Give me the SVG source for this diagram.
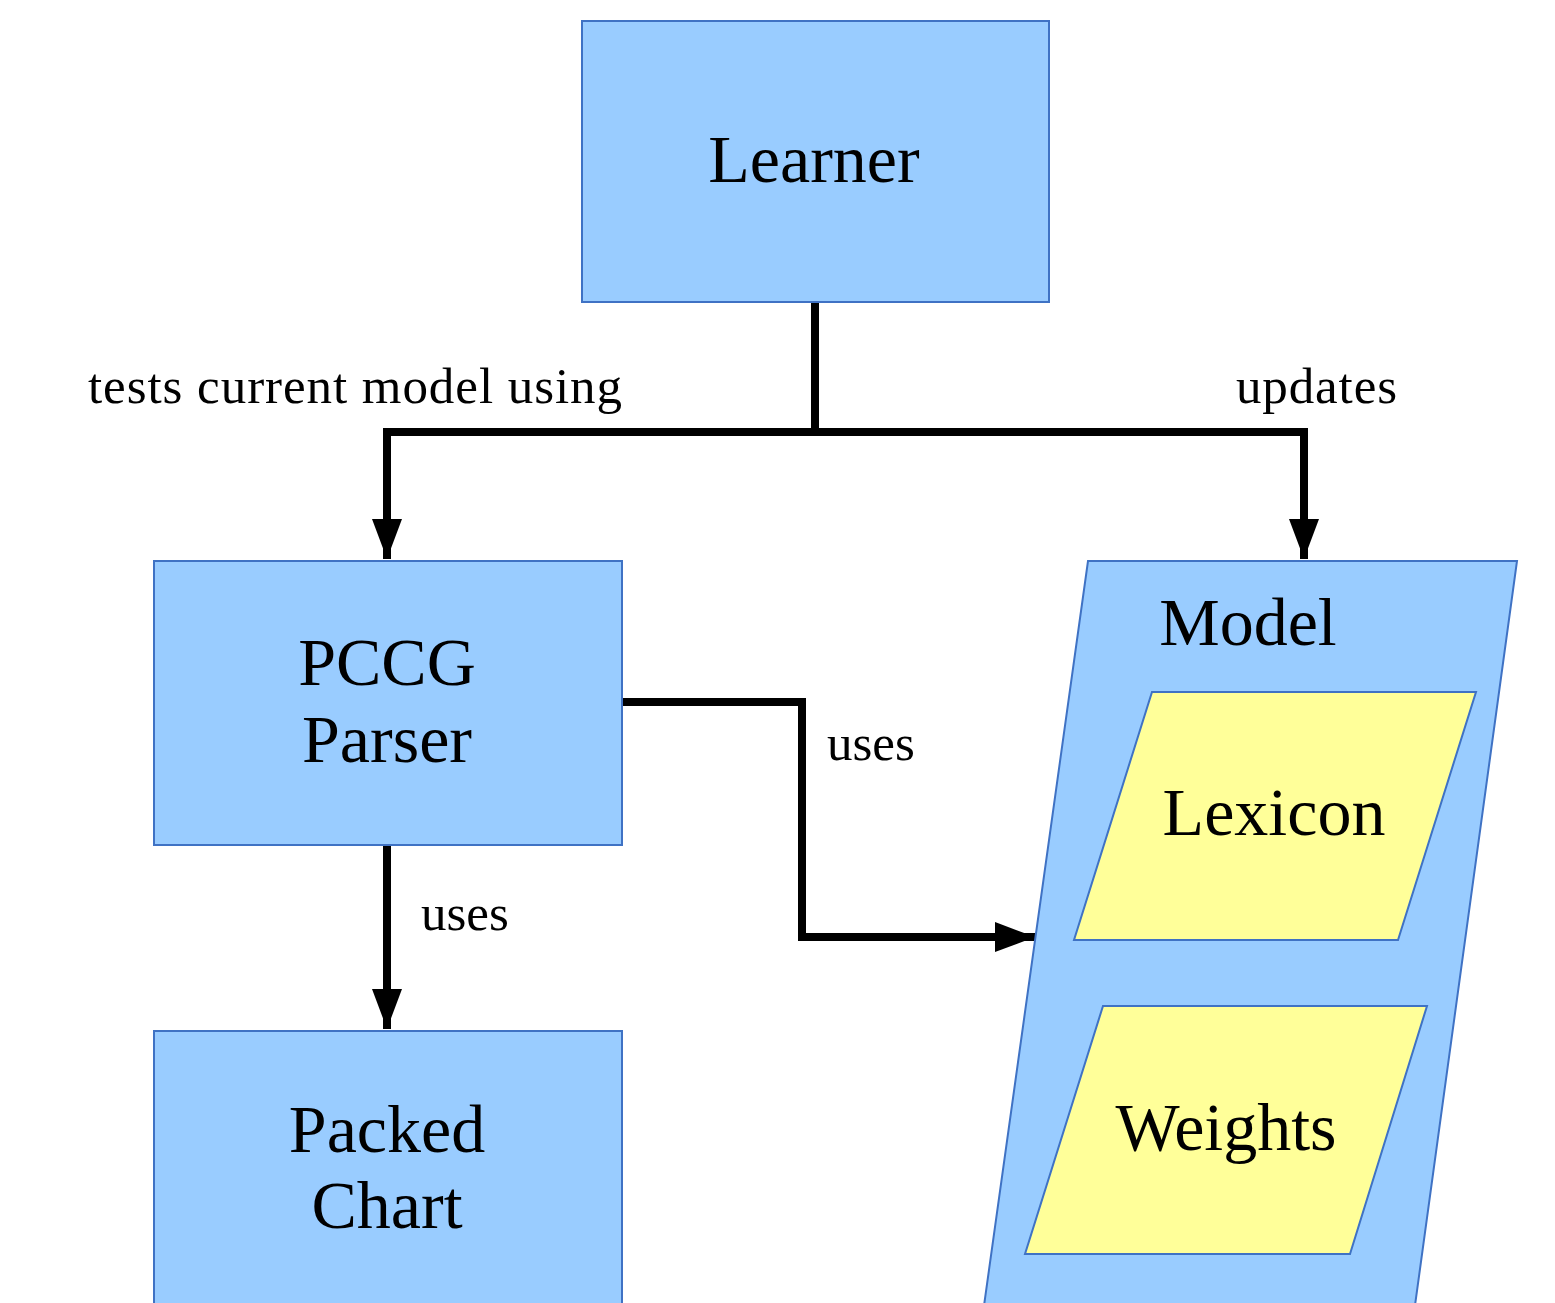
<svg xmlns="http://www.w3.org/2000/svg" width="1555" height="1303" viewBox="0 0 1555 1303">
<style>
.box{fill:#99ccff;stroke:#3f72c4;stroke-width:2}
.yel{fill:#ffff99;stroke:#3f72c4;stroke-width:2}
.big{font-family:"Liberation Serif","DejaVu Serif",serif;font-size:68px;fill:#000;text-anchor:middle}
.lbl{font-family:"Liberation Serif","DejaVu Serif",serif;font-size:51px;fill:#000}
.edge{fill:none;stroke:#000;stroke-width:8;stroke-linejoin:miter}
</style>
<defs>
<marker id="ah" markerUnits="userSpaceOnUse" markerWidth="42" markerHeight="30" refX="40" refY="15" orient="auto">
<path d="M0,0 L40,15 L0,30 Z" fill="#000"/>
</marker>
</defs>
<rect width="1555" height="1303" fill="#fff"/>
<g id="connectors">
<path class="edge" d="M815,302 V432"/>
<path class="edge" d="M387,432 H1304"/>
<path class="edge" d="M387,428 V559" marker-end="url(#ah)"/>
<path class="edge" d="M1304,428 V559" marker-end="url(#ah)"/>
<path class="edge" d="M387,845 V1029" marker-end="url(#ah)"/>
<path class="edge" d="M622,702 H802 V937 H1035" marker-end="url(#ah)"/>
<text class="lbl" x="88" y="403" textLength="534" lengthAdjust="spacing">tests current model using</text>
<text class="lbl" x="1236" y="403" textLength="161" lengthAdjust="spacing">updates</text>
<text class="lbl" x="421" y="930">uses</text>
<text class="lbl" x="827" y="760">uses</text>
</g>
<g id="learner">
<rect class="box" x="582" y="21" width="467" height="281"/>
<text class="big" x="814" y="182">Learner</text>
</g>
<g id="parser">
<rect class="box" x="154" y="561" width="468" height="284"/>
<text class="big" x="387" y="685">PCCG</text>
<text class="big" x="387" y="762">Parser</text>
</g>
<g id="chart">
<rect class="box" x="154" y="1031" width="468" height="290"/>
<text class="big" x="387" y="1152">Packed</text>
<text class="big" x="387" y="1228">Chart</text>
</g>
<g id="model">
<path class="box" d="M1088,561 L1517,561 L1413,1320 L982,1320 Z"/>
<text class="big" x="1248" y="645">Model</text>
</g>
<g id="lexicon">
<path class="yel" d="M1152,692 L1476,692 L1398,940 L1074,940 Z"/>
<text class="big" x="1274" y="835">Lexicon</text>
</g>
<g id="weights">
<path class="yel" d="M1103,1006 L1427,1006 L1350,1254 L1025,1254 Z"/>
<text class="big" x="1226" y="1150">Weights</text>
</g>
</svg>
